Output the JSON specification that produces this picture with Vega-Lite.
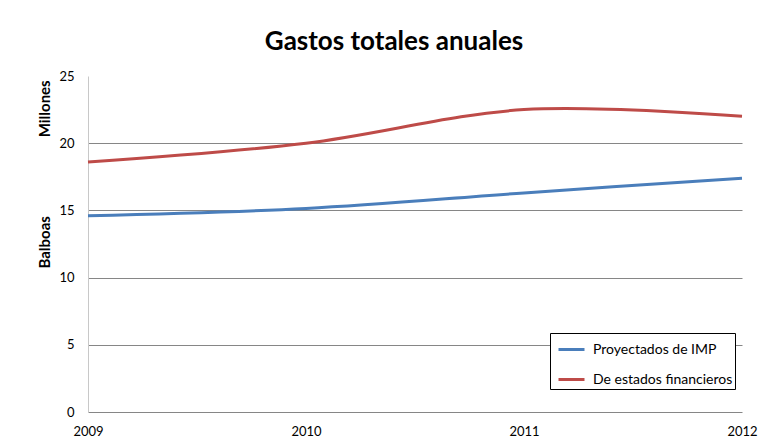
{
  "$schema": "https://vega.github.io/schema/vega-lite/v6.json",
  "width": 654,
  "height": 336,
  "autosize": {"type": "none"},
  "padding": {"left": 88, "top": 76, "right": 23, "bottom": 34},
  "background": "white",
  "title": {
    "text": "Gastos totales anuales",
    "font": "Lato",
    "fontSize": 26,
    "fontWeight": "bold",
    "color": "#000000",
    "anchor": "middle",
    "dx": -21,
    "offset": 15
  },
  "config": {
    "view": {"stroke": null},
    "font": "Lato"
  },
  "data": {
    "values": [
      {"year": 2009, "series": "Proyectados de IMP", "value": 14.6},
      {"year": 2010, "series": "Proyectados de IMP", "value": 15.15},
      {"year": 2011, "series": "Proyectados de IMP", "value": 16.3},
      {"year": 2012, "series": "Proyectados de IMP", "value": 17.4},
      {"year": 2009, "series": "De estados financieros", "value": 18.6},
      {"year": 2010, "series": "De estados financieros", "value": 20.0},
      {"year": 2011, "series": "De estados financieros", "value": 22.5},
      {"year": 2012, "series": "De estados financieros", "value": 22.0}
    ]
  },
  "mark": {"type": "line", "interpolate": "cardinal", "strokeWidth": 3},
  "encoding": {
    "x": {
      "field": "year",
      "type": "quantitative",
      "scale": {"domain": [2009, 2012], "nice": false, "zero": false},
      "axis": {
        "values": [2009, 2010, 2011, 2012],
        "format": "d",
        "title": null,
        "grid": false,
        "ticks": false,
        "domainColor": "#868686",
        "domainWidth": 1,
        "labelFont": "Lato",
        "labelFontSize": 13,
        "labelColor": "#000000",
        "labelPadding": 13,
        "labelFlush": false
      }
    },
    "y": {
      "field": "value",
      "type": "quantitative",
      "scale": {"domain": [0, 25], "nice": false},
      "axis": {
        "values": [0, 5, 10, 15, 20, 25],
        "title": "Balboas\u2003\u2003\u2003\u2003\u2003\u2003\u2003Millones",
        "titleFont": "Lato",
        "titleFontSize": 15,
        "titleFontWeight": "bold",
        "titleColor": "#000000",
        "titleAnchor": "start",
        "titleY": 192,
        "titleX": -44,
        "titleAlign": "left",
        "titleBaseline": "middle",
        "titleAngle": -90,
        "ticks": false,
        "domainColor": "#c8c8c8",
        "grid": true,
        "gridColor": "#868686",
        "gridOpacity": {"condition": {"test": "datum.value == 25 || datum.value == 0", "value": 0}, "value": 1},
        "labelFont": "Lato",
        "labelFontSize": 13,
        "labelColor": "#000000",
        "labelPadding": 14
      }
    },
    "color": {
      "field": "series",
      "type": "nominal",
      "scale": {
        "domain": ["Proyectados de IMP", "De estados financieros"],
        "range": ["#4a7ebb", "#be4b48"]
      },
      "legend": {
        "title": null,
        "orient": "none",
        "legendX": 462,
        "legendY": 257,
        "fillColor": "white",
        "strokeColor": "#000000",
        "padding": 2,
        "symbolType": "stroke",
        "symbolSize": 676,
        "symbolStrokeWidth": 3,
        "symbolOffset": 5,
        "labelFont": "Lato",
        "labelFontSize": 14,
        "labelColor": "#000000",
        "labelOffset": 7,
        "rowPadding": 8
      }
    }
  }
}
